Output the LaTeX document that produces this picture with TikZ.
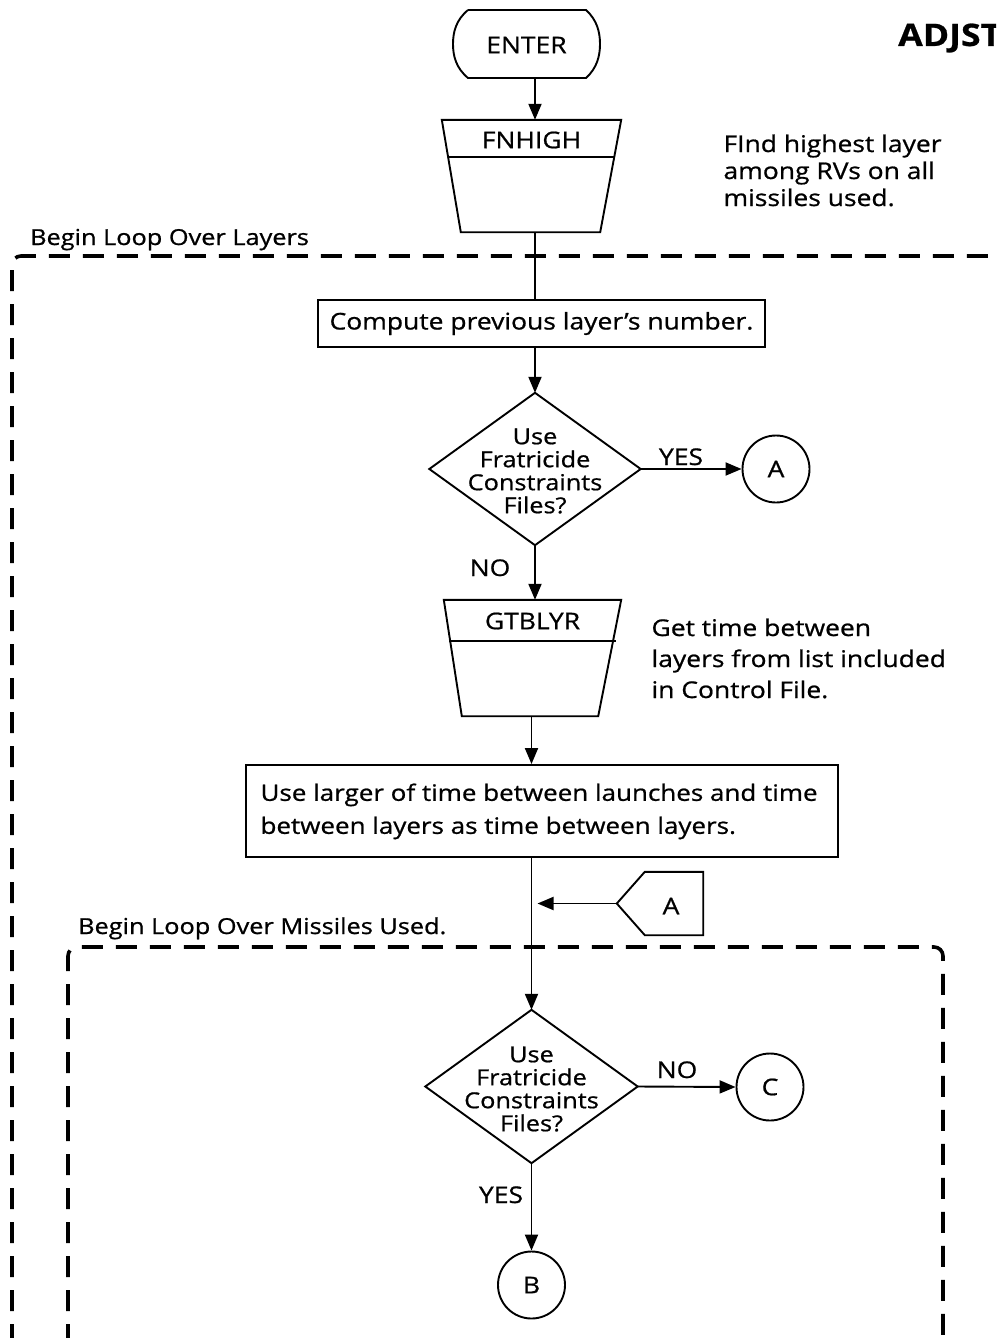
\documentclass[tikz,border=0pt]{standalone}
\usepackage{fontspec}
\setmainfont{Open Sans}[FakeStretch=1.15,FakeBold=0.8]
\usetikzlibrary{arrows.meta,calc}
\begin{document}
\begin{tikzpicture}[x=1pt,y=-1pt,
  ln/.style={line width=1.9pt},
  arr/.style={ln,-{Triangle[length=16pt,width=13pt]}},
  loopbox/.style={line width=3.6pt,dash pattern=on 21pt off 13pt,rounded corners=9pt},
  ghost/.style={draw=none,inner sep=0pt},
  txt/.style={font=\fontsize{23}{31}\selectfont},
  qtxt/.style={font=\fontsize{22}{23}\selectfont,align=center},
  conn/.style={circle,draw,ln,minimum size=67pt,inner sep=0pt,txt},
  procbox/.style={draw,ln,txt,inner sep=0pt},
  lbl/.style={font=\fontsize{23}{24}\selectfont},
  looplab/.style={font=\fontsize{22}{24}\selectfont,inner sep=0pt,anchor=base west},
]
\useasboundingbox (0,0) rectangle (996,1338);
\clip (0,0) rectangle (996,1338);

% title, running off the right edge
\node[anchor=base west,inner sep=0pt,font=\bfseries\fontsize{31}{31}\selectfont] (title) at (898,46) {ADJST};

% entry terminal
\node[ghost,minimum width=147pt,minimum height=68pt,txt] (enter) at (526.5,45) {ENTER};
\draw[ln] (468,10) -- (586,10) .. controls (597,20) and (600,32) .. (600,44)
  .. controls (600,56) and (597,68) .. (586,78) -- (468,78)
  .. controls (456,68) and (453,56) .. (453,44)
  .. controls (453,32) and (456,20) .. (468,10);

% FNHIGH subroutine
\node[ghost,minimum width=179pt,minimum height=112pt] (fn) at (531.5,176) {};
\draw[ln] (fn.north west) -- (fn.north east) -- ($(fn.south east)+(-21,0)$)
  -- ($(fn.south west)+(19,0)$) -- cycle;
\draw[ln] (448,157) -- (615,157);
\node[txt] (fnlab) at (531.5,140) {FNHIGH};
\node[txt,anchor=north west,align=left,font=\fontsize{23}{27}\selectfont] (fnnote) at (720,131)
  {FInd highest layer\\among RVs on all\\missiles used.};

% outer loop
\node[looplab] (outerlab) at (30,245) {Begin Loop Over Layers};
\draw[loopbox] (12,1345) -- (12,256) -- (1005,256);

% previous layer
\node[procbox,minimum width=447pt,minimum height=47pt] (cp) at (541.5,323.5) {Compute previous layer's number.};

% first decision
\node[ghost,minimum width=211pt,minimum height=152pt] (d1) at (535,469) {};
\draw[ln] (d1.north) -- (d1.east) -- (d1.south) -- (d1.west) -- cycle;
\node[qtxt] (d1txt) at (535,471) {Use\\Fratricide\\Constraints\\Files?};
\node[conn] (ca) at (776,469) {A};
\node[lbl,anchor=base] (yes1) at (681,465) {YES};
\node[lbl,anchor=base] (no1) at (490,576) {NO};

% GTBLYR subroutine
\node[ghost,minimum width=177pt,minimum height=116pt] (gt) at (532.5,658) {};
\draw[ln] (gt.north west) -- (gt.north east) -- ($(gt.south east)+(-23,0)$)
  -- ($(gt.south west)+(18,0)$) -- cycle;
\draw[ln] (449,641) -- (616,641);
\node[txt] (gtlab) at (532.5,621) {GTBLYR};
\node[txt,anchor=north west,align=left] (gtnote) at (648,615)
  {Get time between\\layers from list included\\in Control File.};

% larger time
\node[procbox,minimum width=592pt,minimum height=92pt] (lg) at (542,811) {};
\node[txt,anchor=north west,align=left,font=\fontsize{22.6}{33}\selectfont] (lgtxt) at (257,780)
  {Use larger of time between launches and time\\between layers as time between layers.};

% off-page connector A
\node[ghost,minimum width=86pt,minimum height=63pt] (oa) at (660,903.5) {};
\draw[ln] (oa.west) -- ($(oa.north west)+(28,0)$) -- (oa.north east) -- (oa.south east)
  -- ($(oa.south west)+(28,0)$) -- cycle;
\node[txt] (oalab) at (671,906) {A};

% inner loop
\node[looplab] (innerlab) at (78,934) {Begin Loop Over Missiles Used.};
\draw[loopbox] (68,1345) -- (68,947) -- (943,947) -- (943,1345);

% second decision
\node[ghost,minimum width=212pt,minimum height=153pt] (d2) at (531.5,1086.5) {};
\draw[ln] (d2.north) -- (d2.east) -- (d2.south) -- (d2.west) -- cycle;
\node[qtxt] (d2txt) at (531.5,1089) {Use\\Fratricide\\Constraints\\Files?};
\node[conn] (cc) at (770,1087) {C};
\node[conn] (cb) at (531.5,1285) {B};
\node[lbl,anchor=base] (no2) at (677,1078) {NO};
\node[lbl,anchor=base] (yes2) at (501,1203) {YES};

% connectors
\draw[arr] (enter.south -| d1.north) -- (fn.north -| d1.north);
\draw[ln] (fn.south -| d1.north) -- (cp.north -| d1.north);
\draw[arr] (cp.south -| d1.north) -- (d1.north);
\draw[arr] (d1.east) -- (ca.west);
\draw[arr] (d1.south) -- (gt.north -| d1.south);
\draw[arr] (gt.south -| d2.north) -- (lg.north -| d2.north);
\draw[arr] (d2.north |- lg.south) -- (d2.north);
\coordinate (ajoin) at ($(oa.west -| d2.north)+(6,0)$);
\draw[arr] (oa.west) -- (ajoin);
\draw[arr] (d2.east) -- (cc.west);
\draw[arr] (d2.south) -- (cb.north);
\end{tikzpicture}
\end{document}
